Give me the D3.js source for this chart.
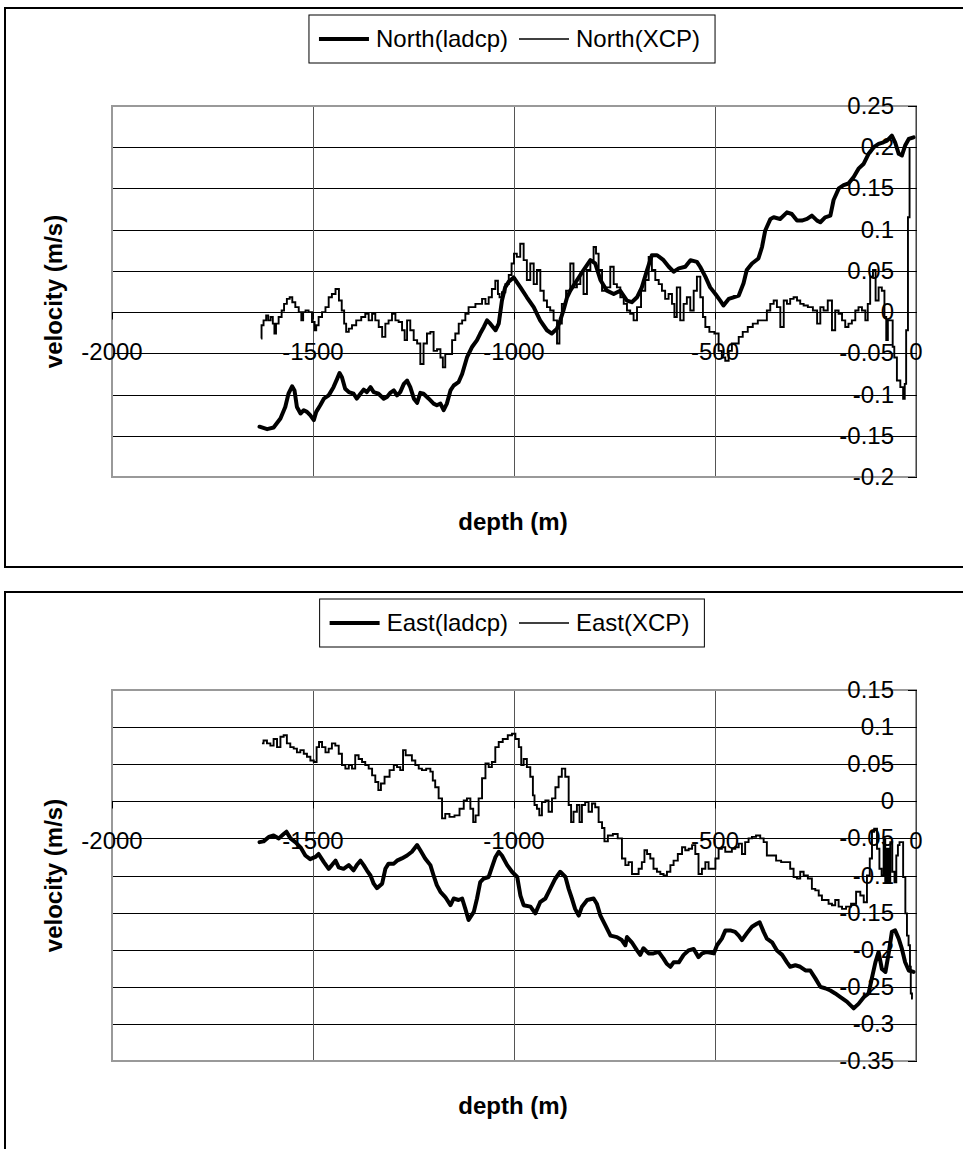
<!DOCTYPE html>
<html>
<head>
<meta charset="utf-8">
<title>ladcp vs XCP velocity profiles</title>
<script src="https://d3js.org/d3.v7.min.js"></script>
<style>
	body{
		margin:0;
		background-color:#fff;
		font-family:"Liberation Sans", Arial, sans-serif;
	}
	.tick-label{
		font-size:24px;
		fill:#000;
	}
	.axis-title{
		font-size:24px;
		font-weight:bold;
		fill:#000;
	}
	.legend-text{
		font-size:24px;
		fill:#000;
	}
</style>
</head>
<body>
<div id="chart"></div>
<script>

//DATA (depth in m, velocity in m/s)

var depthTicks = [-2000, -1500, -1000, -500, 0];
var northTicks = [0.25, 0.2, 0.15, 0.1, 0.05, 0, -0.05, -0.1, -0.15, -0.2];
var eastTicks = [0.15, 0.1, 0.05, 0, -0.05, -0.1, -0.15, -0.2, -0.25, -0.3, -0.35];

var northLadcp = [
	[-1633,-0.139],[-1614,-0.142],[-1598,-0.140],[-1581,-0.129],[-1569,-0.115],[-1561,-0.099],
	[-1552,-0.090],[-1546,-0.095],[-1540,-0.115],[-1531,-0.123],[-1523,-0.119],[-1515,-0.121],
	[-1507,-0.125],[-1498,-0.131],[-1492,-0.121],[-1482,-0.113],[-1473,-0.105],[-1461,-0.101],
	[-1449,-0.091],[-1440,-0.081],[-1434,-0.074],[-1428,-0.079],[-1420,-0.093],[-1411,-0.097],
	[-1399,-0.099],[-1391,-0.105],[-1382,-0.099],[-1374,-0.094],[-1366,-0.097],[-1357,-0.091],
	[-1349,-0.097],[-1337,-0.099],[-1324,-0.105],[-1316,-0.103],[-1308,-0.098],[-1299,-0.095],
	[-1291,-0.101],[-1283,-0.097],[-1274,-0.087],[-1266,-0.083],[-1258,-0.091],[-1249,-0.105],
	[-1241,-0.110],[-1233,-0.098],[-1225,-0.099],[-1212,-0.105],[-1200,-0.111],[-1192,-0.113],
	[-1183,-0.111],[-1175,-0.119],[-1167,-0.111],[-1158,-0.095],[-1150,-0.089],[-1138,-0.085],
	[-1129,-0.075],[-1117,-0.055],[-1104,-0.042],[-1092,-0.034],[-1084,-0.026],[-1075,-0.018],
	[-1067,-0.010],[-1059,-0.014],[-1046,-0.022],[-1038,-0.014],[-1030,0.014],[-1022,0.030],
	[-1013,0.037],[-1001,0.042],[-984,0.030],[-968,0.018],[-951,0.006],[-935,-0.010],
	[-918,-0.022],[-906,-0.026],[-893,-0.020],[-885,-0.010],[-877,0.002],[-868,0.018],
	[-860,0.026],[-843,0.039],[-827,0.051],[-810,0.063],[-798,0.059],[-785,0.039],
	[-769,0.026],[-752,0.022],[-736,0.026],[-719,0.014],[-707,0.012],[-694,0.018],
	[-682,0.030],[-669,0.051],[-657,0.069],[-644,0.069],[-628,0.063],[-615,0.055],
	[-603,0.049],[-590,0.053],[-574,0.055],[-561,0.063],[-545,0.061],[-537,0.055],
	[-524,0.043],[-512,0.030],[-499,0.022],[-487,0.014],[-479,0.008],[-466,0.016],
	[-454,0.018],[-441,0.020],[-429,0.035],[-421,0.051],[-408,0.059],[-392,0.065],
	[-383,0.079],[-375,0.099],[-362,0.113],[-354,0.115],[-338,0.113],[-321,0.121],
	[-309,0.119],[-296,0.111],[-284,0.111],[-271,0.113],[-259,0.117],[-246,0.111],
	[-238,0.109],[-226,0.115],[-213,0.117],[-205,0.136],[-192,0.150],[-180,0.154],
	[-168,0.156],[-155,0.164],[-143,0.174],[-130,0.180],[-118,0.192],[-105,0.200],
	[-93,0.204],[-81,0.206],[-72,0.208],[-60,0.214],[-52,0.206],[-43,0.192],
	[-35,0.190],[-27,0.202],[-18,0.210],[-6,0.212]
];

var northXcp = [
	[-1629,-0.032],[-1627,-0.016],[-1619,-0.010],[-1614,-0.004],[-1609,-0.010],[-1602,-0.006],
	[-1598,-0.014],[-1594,-0.026],[-1590,-0.014],[-1581,-0.006],[-1575,0.002],[-1569,0.010],
	[-1561,0.016],[-1555,0.018],[-1548,0.012],[-1540,0.006],[-1531,0.000],[-1527,-0.010],
	[-1522,0.000],[-1515,0.002],[-1507,0.000],[-1498,-0.012],[-1494,-0.022],[-1490,-0.016],
	[-1482,-0.006],[-1473,0.000],[-1465,0.006],[-1457,0.018],[-1449,0.022],[-1439,0.028],
	[-1432,0.014],[-1425,0.002],[-1420,-0.014],[-1415,-0.024],[-1407,-0.020],[-1399,-0.016],
	[-1386,-0.010],[-1374,-0.006],[-1366,-0.002],[-1357,-0.010],[-1349,-0.002],[-1341,-0.010],
	[-1332,-0.018],[-1324,-0.030],[-1316,-0.014],[-1308,-0.010],[-1299,-0.002],[-1291,-0.010],
	[-1283,-0.012],[-1274,-0.022],[-1270,-0.034],[-1262,-0.010],[-1254,-0.022],[-1245,-0.034],
	[-1237,-0.038],[-1229,-0.063],[-1221,-0.038],[-1212,-0.026],[-1204,-0.024],[-1196,-0.047],
	[-1187,-0.045],[-1179,-0.055],[-1175,-0.067],[-1167,-0.051],[-1158,-0.051],[-1150,-0.034],
	[-1142,-0.026],[-1133,-0.014],[-1125,-0.010],[-1117,-0.002],[-1109,0.006],[-1100,0.006],
	[-1092,0.010],[-1084,0.010],[-1075,0.016],[-1067,0.010],[-1059,0.018],[-1051,0.028],
	[-1042,0.038],[-1038,0.022],[-1034,0.018],[-1026,0.024],[-1017,0.034],[-1009,0.045],
	[-1003,0.059],[-997,0.071],[-989,0.067],[-980,0.083],[-972,0.063],[-964,0.039],
	[-955,0.059],[-947,0.034],[-939,0.051],[-930,0.026],[-922,0.014],[-914,0.006],
	[-906,0.002],[-897,-0.010],[-889,-0.038],[-885,-0.014],[-877,0.010],[-864,0.026],
	[-856,0.059],[-848,0.030],[-839,0.034],[-831,0.047],[-823,0.022],[-814,0.051],
	[-806,0.063],[-798,0.079],[-794,0.071],[-785,0.051],[-777,0.026],[-765,0.030],
	[-756,0.055],[-748,0.034],[-740,0.030],[-731,0.018],[-723,0.010],[-715,0.002],
	[-707,-0.002],[-698,-0.010],[-690,0.006],[-678,0.026],[-669,0.039],[-661,0.067],
	[-653,0.051],[-644,0.039],[-636,0.034],[-628,0.026],[-620,0.016],[-611,0.022],
	[-603,0.010],[-599,-0.006],[-591,0.030],[-582,-0.010],[-574,0.010],[-566,0.018],
	[-557,0.002],[-549,0.026],[-541,0.043],[-532,0.018],[-528,-0.006],[-520,-0.018],
	[-508,-0.024],[-495,-0.026],[-487,-0.047],[-479,-0.055],[-470,-0.059],[-462,-0.047],
	[-454,-0.038],[-445,-0.038],[-437,-0.030],[-425,-0.024],[-412,-0.018],[-400,-0.014],
	[-387,-0.010],[-375,-0.010],[-367,0.002],[-358,0.010],[-350,0.014],[-342,0.006],
	[-333,-0.018],[-325,0.014],[-317,0.010],[-309,0.016],[-300,0.018],[-292,0.014],
	[-284,0.010],[-275,0.008],[-263,0.006],[-250,0.002],[-242,-0.014],[-234,0.006],
	[-226,0.002],[-213,0.014],[-205,-0.022],[-197,0.002],[-188,-0.002],[-180,-0.010],
	[-172,-0.018],[-164,-0.014],[-155,-0.010],[-147,0.002],[-139,0.006],[-130,0.002],
	[-122,-0.010],[-118,0.010],[-110,0.043],[-104,0.051],[-97,0.014],[-89,0.030],
	[-81,0.026],[-76,-0.006],[-72,-0.034],[-68,-0.010],[-60,-0.010],[-56,-0.042],
	[-52,-0.055],[-43,-0.083],[-35,-0.091],[-29,-0.105],[-27,-0.087],[-22,-0.022],
	[-18,0.115],[-14,0.198]
];

var eastLadcp = [
	[-1633,-0.055],[-1623,-0.054],[-1610,-0.048],[-1598,-0.046],[-1585,-0.050],[-1573,-0.044],
	[-1566,-0.041],[-1556,-0.050],[-1544,-0.055],[-1531,-0.062],[-1519,-0.073],[-1507,-0.078],
	[-1494,-0.075],[-1486,-0.071],[-1473,-0.082],[-1461,-0.091],[-1453,-0.086],[-1444,-0.080],
	[-1436,-0.089],[-1424,-0.091],[-1411,-0.086],[-1399,-0.093],[-1391,-0.086],[-1382,-0.080],
	[-1374,-0.086],[-1366,-0.093],[-1357,-0.100],[-1349,-0.111],[-1341,-0.117],[-1328,-0.111],
	[-1320,-0.091],[-1312,-0.084],[-1299,-0.084],[-1291,-0.080],[-1279,-0.077],[-1266,-0.073],
	[-1254,-0.068],[-1241,-0.059],[-1233,-0.066],[-1221,-0.077],[-1208,-0.086],[-1200,-0.100],
	[-1192,-0.113],[-1183,-0.122],[-1171,-0.129],[-1158,-0.140],[-1150,-0.131],[-1138,-0.133],
	[-1129,-0.131],[-1121,-0.145],[-1113,-0.160],[-1100,-0.149],[-1092,-0.131],[-1084,-0.109],
	[-1075,-0.104],[-1063,-0.102],[-1055,-0.089],[-1046,-0.075],[-1038,-0.068],[-1030,-0.073],
	[-1017,-0.086],[-1005,-0.095],[-992,-0.102],[-984,-0.127],[-976,-0.140],[-959,-0.142],
	[-947,-0.151],[-935,-0.136],[-922,-0.131],[-910,-0.118],[-897,-0.104],[-885,-0.095],
	[-872,-0.102],[-864,-0.118],[-856,-0.131],[-848,-0.145],[-839,-0.154],[-831,-0.142],
	[-818,-0.133],[-802,-0.131],[-794,-0.138],[-785,-0.154],[-773,-0.167],[-760,-0.181],
	[-744,-0.183],[-732,-0.187],[-723,-0.194],[-719,-0.183],[-707,-0.190],[-694,-0.201],
	[-686,-0.207],[-678,-0.198],[-665,-0.205],[-653,-0.205],[-640,-0.203],[-628,-0.212],
	[-620,-0.219],[-611,-0.223],[-603,-0.217],[-590,-0.217],[-578,-0.207],[-566,-0.201],
	[-553,-0.199],[-541,-0.210],[-532,-0.205],[-520,-0.203],[-503,-0.205],[-495,-0.194],
	[-483,-0.185],[-474,-0.174],[-462,-0.174],[-450,-0.176],[-441,-0.181],[-433,-0.187],
	[-421,-0.178],[-408,-0.169],[-396,-0.165],[-389,-0.163],[-379,-0.176],[-371,-0.185],
	[-358,-0.190],[-346,-0.201],[-333,-0.207],[-321,-0.217],[-313,-0.223],[-300,-0.221],
	[-288,-0.223],[-275,-0.228],[-263,-0.228],[-250,-0.239],[-238,-0.250],[-226,-0.252],
	[-213,-0.255],[-201,-0.259],[-188,-0.264],[-172,-0.270],[-155,-0.279],[-143,-0.273],
	[-130,-0.264],[-118,-0.259],[-110,-0.239],[-101,-0.217],[-93,-0.203],[-85,-0.226],
	[-76,-0.230],[-68,-0.205],[-60,-0.176],[-52,-0.174],[-43,-0.185],[-35,-0.199],
	[-27,-0.217],[-18,-0.228],[-6,-0.230]
];

var eastXcp = [
	[-1627,0.078],[-1619,0.082],[-1610,0.078],[-1602,0.075],[-1594,0.084],[-1585,0.073],
	[-1577,0.087],[-1569,0.089],[-1561,0.078],[-1552,0.073],[-1544,0.071],[-1536,0.066],
	[-1527,0.069],[-1519,0.064],[-1511,0.060],[-1502,0.055],[-1494,0.053],[-1488,0.073],
	[-1482,0.080],[-1473,0.073],[-1465,0.066],[-1457,0.071],[-1449,0.078],[-1440,0.075],
	[-1432,0.064],[-1424,0.049],[-1415,0.044],[-1407,0.049],[-1399,0.044],[-1391,0.062],
	[-1382,0.057],[-1374,0.053],[-1366,0.049],[-1357,0.044],[-1349,0.035],[-1341,0.026],
	[-1334,0.015],[-1328,0.024],[-1316,0.033],[-1303,0.042],[-1295,0.049],[-1287,0.046],
	[-1279,0.042],[-1273,0.069],[-1266,0.062],[-1258,0.062],[-1250,0.055],[-1241,0.049],
	[-1233,0.044],[-1225,0.042],[-1212,0.044],[-1204,0.040],[-1200,0.028],[-1192,0.019],
	[-1183,0.004],[-1175,-0.023],[-1167,-0.017],[-1154,-0.021],[-1142,-0.019],[-1129,-0.010],
	[-1121,0.001],[-1113,0.004],[-1104,-0.010],[-1099,-0.028],[-1092,-0.019],[-1084,0.004],
	[-1075,0.031],[-1067,0.051],[-1059,0.046],[-1051,0.053],[-1042,0.073],[-1034,0.080],
	[-1022,0.084],[-1009,0.089],[-1001,0.091],[-992,0.084],[-984,0.073],[-980,0.049],
	[-972,0.057],[-964,0.046],[-955,0.033],[-951,0.008],[-947,-0.005],[-939,-0.010],
	[-935,-0.019],[-926,-0.001],[-918,0.001],[-910,-0.014],[-901,0.004],[-893,0.019],
	[-885,0.033],[-877,0.044],[-868,0.033],[-860,-0.005],[-856,-0.028],[-848,-0.014],
	[-839,-0.005],[-835,-0.028],[-827,-0.005],[-819,-0.001],[-810,-0.014],[-802,-0.003],
	[-794,-0.008],[-785,-0.028],[-777,-0.036],[-773,-0.054],[-760,-0.046],[-748,-0.044],
	[-736,-0.050],[-727,-0.077],[-719,-0.086],[-711,-0.082],[-702,-0.098],[-694,-0.098],
	[-686,-0.091],[-678,-0.082],[-673,-0.066],[-665,-0.071],[-657,-0.077],[-649,-0.091],
	[-640,-0.095],[-632,-0.098],[-624,-0.100],[-615,-0.095],[-607,-0.086],[-599,-0.080],
	[-586,-0.071],[-578,-0.062],[-570,-0.066],[-561,-0.064],[-553,-0.059],[-545,-0.071],
	[-537,-0.098],[-528,-0.091],[-520,-0.082],[-512,-0.091],[-503,-0.091],[-495,-0.077],
	[-487,-0.064],[-479,-0.062],[-470,-0.068],[-462,-0.068],[-454,-0.064],[-445,-0.062],
	[-437,-0.057],[-429,-0.071],[-421,-0.055],[-412,-0.050],[-404,-0.048],[-392,-0.046],
	[-383,-0.050],[-375,-0.055],[-367,-0.073],[-354,-0.073],[-342,-0.080],[-329,-0.082],
	[-317,-0.082],[-309,-0.091],[-300,-0.102],[-292,-0.104],[-284,-0.095],[-275,-0.100],
	[-263,-0.104],[-255,-0.118],[-246,-0.120],[-238,-0.127],[-230,-0.133],[-222,-0.133],
	[-213,-0.138],[-205,-0.140],[-197,-0.133],[-188,-0.142],[-180,-0.145],[-168,-0.142],
	[-155,-0.138],[-143,-0.122],[-134,-0.127],[-126,-0.136],[-118,-0.100],[-112,-0.077],
	[-107,-0.041],[-101,-0.037],[-93,-0.064],[-89,-0.091],[-82,-0.100],[-79,-0.050],
	[-74,-0.109],[-70,-0.064],[-66,-0.109],[-62,-0.055],[-56,-0.095],[-51,-0.109],
	[-47,-0.073],[-43,-0.059],[-39,-0.055],[-35,-0.055],[-29,-0.102],[-24,-0.151],
	[-21,-0.181],[-16,-0.194],[-14,-0.223],[-12,-0.259],[-8,-0.266]
];

//GENERAL SETUP

var width = 963;
var height = 1149;

var svg = d3.select("#chart")
	.append("svg")
	.attr("width", width)
	.attr("height", height);

var panels = [
	{top: 8, ticks: northTicks, thick: northLadcp, thin: northXcp,
	 names: ["North(ladcp)", "North(XCP)"]},
	{top: 592, ticks: eastTicks, thick: eastLadcp, thin: eastXcp,
	 names: ["East(ladcp)", "East(XCP)"]}
];

var plotLeft = 112;
var plotRight = 916;

panels.forEach(drawPanel);

function drawPanel(p) {
	var g = svg.append("g");
	var plotTop = p.top + 98;
	var plotBottom = plotTop + 371;

	//outer chart frame
	g.append("rect")
		.attr("x", 5)
		.attr("y", p.top)
		.attr("width", 975)
		.attr("height", 559)
		.attr("fill", "#fff")
		.attr("stroke", "#000")
		.attr("stroke-width", 2);

	var x = d3.scaleLinear()
		.domain([-2000, 0])
		.range([plotLeft, plotRight]);

	var y = d3.scaleLinear()
		.domain([d3.min(p.ticks), d3.max(p.ticks)])
		.range([plotBottom, plotTop]);

	//gridlines
	g.selectAll(".hgrid")
		.data(p.ticks)
		.enter()
		.append("line")
		.attr("x1", plotLeft)
		.attr("x2", plotRight)
		.attr("y1", function(d){ return Math.round(y(d)) + 0.5; })
		.attr("y2", function(d){ return Math.round(y(d)) + 0.5; })
		.attr("stroke", "#000")
		.attr("stroke-width", 1);

	g.selectAll(".vgrid")
		.data(depthTicks.slice(1, -1))
		.enter()
		.append("line")
		.attr("x1", function(d){ return Math.round(x(d)) + 0.5; })
		.attr("x2", function(d){ return Math.round(x(d)) + 0.5; })
		.attr("y1", plotTop)
		.attr("y2", plotBottom)
		.attr("stroke", "#555")
		.attr("stroke-width", 1);

	//plot area border
	g.append("rect")
		.attr("x", plotLeft)
		.attr("y", plotTop)
		.attr("width", plotRight - plotLeft)
		.attr("height", plotBottom - plotTop)
		.attr("fill", "none")
		.attr("stroke", "#999")
		.attr("stroke-width", 2);

	//x axis along velocity = 0, with ticks hanging below
	var y0 = Math.round(y(0)) + 0.5;
	g.append("line")
		.attr("x1", plotLeft)
		.attr("x2", plotRight)
		.attr("y1", y0)
		.attr("y2", y0)
		.attr("stroke", "#000");
	g.selectAll(".xtick")
		.data(depthTicks)
		.enter()
		.append("line")
		.attr("x1", function(d){ return Math.round(x(d)) + 0.5; })
		.attr("x2", function(d){ return Math.round(x(d)) + 0.5; })
		.attr("y1", y0)
		.attr("y2", y0 + 7)
		.attr("stroke", "#000");

	//y axis at depth = 0 (right side)
	g.append("line")
		.attr("x1", plotRight + 0.5)
		.attr("x2", plotRight + 0.5)
		.attr("y1", plotTop)
		.attr("y2", plotBottom)
		.attr("stroke", "#444");
	g.selectAll(".ytick")
		.data(p.ticks)
		.enter()
		.append("line")
		.attr("x1", plotRight - 8)
		.attr("x2", plotRight + 1)
		.attr("y1", function(d){ return Math.round(y(d)) + 0.5; })
		.attr("y2", function(d){ return Math.round(y(d)) + 0.5; })
		.attr("stroke", "#000");

	//tick labels
	g.selectAll(".xlab")
		.data(depthTicks)
		.enter()
		.append("text")
		.attr("class", "tick-label")
		.attr("x", function(d){ return x(d); })
		.attr("y", y0 + 47)
		.attr("text-anchor", "middle")
		.text(function(d){ return d; });

	g.selectAll(".ylab")
		.data(p.ticks)
		.enter()
		.append("text")
		.attr("class", "tick-label")
		.attr("x", 894)
		.attr("y", function(d){ return y(d) + 8; })
		.attr("text-anchor", "end")
		.text(function(d){ return d; });

	//series
	var line = d3.line()
		.x(function(d){ return x(d[0]); })
		.y(function(d){ return y(d[1]); });

	var stepLine = d3.line()
		.curve(d3.curveStep)
		.x(function(d){ return x(d[0]); })
		.y(function(d){ return y(d[1]); });

	g.append("path")
		.datum(p.thin)
		.attr("d", stepLine)
		.attr("fill", "none")
		.attr("stroke", "#000")
		.attr("stroke-width", 1.9)
		.attr("stroke-linejoin", "miter");

	g.append("path")
		.datum(p.thick)
		.attr("d", line)
		.attr("fill", "none")
		.attr("stroke", "#000")
		.attr("stroke-width", 4)
		.attr("stroke-linejoin", "round")
		.attr("stroke-linecap", "round");

	//axis titles
	g.append("text")
		.attr("class", "axis-title")
		.attr("transform", "translate(62," + ((plotTop + plotBottom) / 2) + ") rotate(-90)")
		.attr("text-anchor", "middle")
		.text("velocity (m/s)");

	g.append("text")
		.attr("class", "axis-title")
		.attr("x", 513)
		.attr("y", plotBottom + 53)
		.attr("text-anchor", "middle")
		.text("depth (m)");

	//legend
	var leg = g.append("g");
	var box = leg.append("rect")
		.attr("fill", "#fff")
		.attr("stroke", "#000")
		.attr("stroke-width", 1);
	var cx = 10;
	var ly = p.top + 31;
	var widths = [3.8, 1.4];
	p.names.forEach(function(name, i) {
		leg.append("line")
			.attr("x1", cx)
			.attr("x2", cx + 50)
			.attr("y1", ly)
			.attr("y2", ly)
			.attr("stroke", "#000")
			.attr("stroke-width", widths[i]);
		var t = leg.append("text")
			.attr("class", "legend-text")
			.attr("x", cx + 57)
			.attr("y", ly + 8)
			.text(name);
		cx += 57 + t.node().getComputedTextLength() + 11;
	});
	var boxW = cx + 4;
	var boxX = 512 - boxW / 2;
	box.attr("x", 0)
		.attr("y", p.top + 7)
		.attr("width", boxW)
		.attr("height", 48);
	leg.attr("transform", "translate(" + boxX + ",0)");
}

</script>
</body>
</html>
